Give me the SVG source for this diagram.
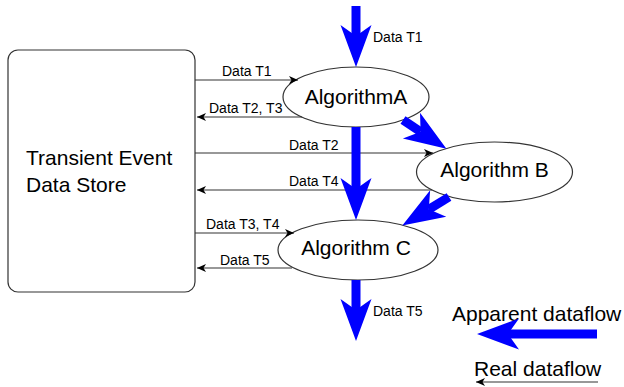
<svg xmlns="http://www.w3.org/2000/svg" width="624" height="387" viewBox="0 0 624 387">
<style>
.shape{fill:#fff;stroke:#333;stroke-width:1.2}
.big{font-family:"Liberation Sans",Arial,sans-serif;font-size:21px;fill:#000}
.lbl{font-family:"Liberation Sans",Arial,sans-serif;font-size:14px;fill:#000}
.thin{fill:none;stroke:#333;stroke-width:1.2;marker-end:url(#ah)}
.blue{fill:none;stroke:#0000ff;stroke-width:9;marker-end:url(#bh)}
</style>
<defs>
<marker id="ah" markerUnits="userSpaceOnUse" markerWidth="10" markerHeight="9" refX="9" refY="4" orient="auto" overflow="visible">
<path d="M0,0 L9,4 L0,8 L2.5,4 Z" fill="#000"/>
</marker>
<marker id="bh" markerUnits="userSpaceOnUse" markerWidth="44" markerHeight="32" refX="11" refY="15.5" orient="auto" overflow="visible">
<path d="M0,0 L42,15.5 L0,31 L11,15.5 Z" fill="#0000ff"/>
</marker>
</defs>
<g id="store">
<rect class="shape" x="8" y="50" width="187" height="242" rx="10" ry="10"/>
<text class="big" x="26" y="165">Transient Event</text>
<text class="big" x="26" y="192">Data Store</text>
</g>
<g id="algA">
<ellipse class="shape" cx="356" cy="97" rx="73" ry="30"/>
<text class="big" x="356" y="104" text-anchor="middle">AlgorithmA</text>
</g>
<g id="algB">
<ellipse class="shape" cx="494.5" cy="172" rx="78" ry="30"/>
<text class="big" x="494.5" y="177" text-anchor="middle">Algorithm B</text>
</g>
<g id="algC">
<ellipse class="shape" cx="358" cy="250" rx="80" ry="30"/>
<text class="big" x="356" y="255" text-anchor="middle">Algorithm C</text>
</g>
<g id="connectors">
<path class="thin" d="M195,80 H298"/>
<path class="thin" d="M302,117 H197"/>
<path class="thin" d="M195,153 H433"/>
<path class="thin" d="M432,190 H197"/>
<path class="thin" d="M195,233 H294"/>
<path class="thin" d="M292,268 H197"/>
<path class="blue" d="M356,6 V36"/>
<path class="blue" d="M356,127 V189"/>
<path class="blue" d="M356,280 V310"/>
<path class="blue" d="M403,120 L420.6,131.7"/>
<path class="blue" d="M449,197 L428.8,209.3"/>
<text class="lbl" x="222" y="76">Data T1</text>
<text class="lbl" x="209" y="113">Data T2, T3</text>
<text class="lbl" x="289" y="150">Data T2</text>
<text class="lbl" x="289" y="186">Data T4</text>
<text class="lbl" x="206" y="229">Data T3, T4</text>
<text class="lbl" x="220" y="265">Data T5</text>
<text class="lbl" x="373" y="42">Data T1</text>
<text class="lbl" x="373" y="316">Data T5</text>
</g>
<g id="legend">
<text class="big" x="452" y="321">Apparent dataflow</text>
<path class="blue" d="M597,334 H508"/>
<text class="big" x="474" y="376">Real dataflow</text>
<path class="thin" d="M598,382 H476"/>
</g>
</svg>
